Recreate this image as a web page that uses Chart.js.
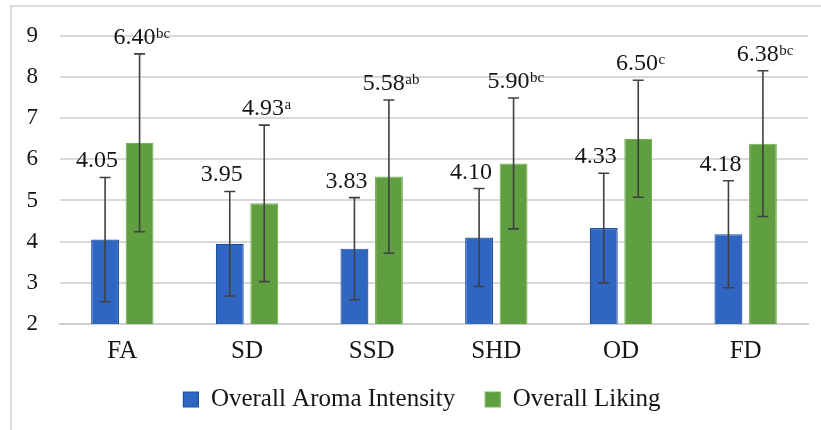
<!DOCTYPE html>
<html>
<head>
<meta charset="utf-8">
<script src="https://cdn.jsdelivr.net/npm/chart.js@4"></script>
<style>
  html, body { margin: 0; padding: 0; background: #fff; overflow: hidden; }
  #wrap { position: relative; width: 821px; height: 430px; }
  #frame { position: absolute; left: 10px; top: 5px; width: 840px; height: 460px;
           border: 2px solid #dcdcdc; box-sizing: border-box; pointer-events: none; }
  canvas { position: absolute; left: 0; top: 0; }
</style>
</head>
<body>
<div id="wrap">
  <canvas id="c" width="821" height="430"></canvas>
  <div id="frame"></div>
</div>
<script>
// Treatments and sensory scores
const categories = ['FA', 'SD', 'SSD', 'SHD', 'OD', 'FD'];
const aromaMeans = [4.05, 3.95, 3.83, 4.10, 4.33, 4.18];
const aromaSD = [1.51, 1.27, 1.24, 1.19, 1.33, 1.30];
const likingMeans = [6.40, 4.93, 5.58, 5.90, 6.50, 6.38];
const likingSD = [2.16, 1.90, 1.86, 1.59, 1.42, 1.77];
const likingLetters = ['bc', 'a', 'ab', 'bc', 'c', 'bc'];
const yTicks = [2, 3, 4, 5, 6, 7, 8, 9];

const SERIF = '"Liberation Serif", "Times New Roman", serif';
const TEXT = '#151515';

// Let the tick labels use the space outside their axis boxes
const widenTickLabels = {
  id: 'widenTickLabels',
  afterLayout(chart) {
    chart.scales.y.left = 0;
    chart.scales.x.bottom = chart.height;
  }
};

// Error bars (mean ± SD) and value labels drawn on top of the bars
const errorBarsAndLabels = {
  id: 'errorBarsAndLabels',
  afterDatasetsDraw(chart) {
    const ctx = chart.ctx;
    const y = chart.scales.y;
    const sds = [aromaSD, likingSD];
    chart.data.datasets.forEach((ds, di) => {
      const meta = chart.getDatasetMeta(di);
      meta.data.forEach((bar, i) => {
        const m = ds.data[i];
        const top = y.getPixelForValue(m + sds[di][i]);
        const bot = y.getPixelForValue(m - sds[di][i]);
        const x = bar.x;
        ctx.save();
        ctx.strokeStyle = '#404040';
        ctx.lineWidth = 1.6;
        ctx.beginPath();
        ctx.moveTo(x, top); ctx.lineTo(x, bot);
        ctx.moveTo(x - 5.5, top); ctx.lineTo(x + 5.5, top);
        ctx.moveTo(x - 5.5, bot); ctx.lineTo(x + 5.5, bot);
        ctx.stroke();

        // value label
        const num = m.toFixed(2);
        ctx.fillStyle = TEXT;
        ctx.textBaseline = 'alphabetic';
        ctx.font = '24px ' + SERIF;
        const nw = ctx.measureText(num).width;
        const baseY = top - 10;
        if (di === 0) {
          ctx.textAlign = 'center';
          ctx.fillText(num, x - 8, baseY);
        } else {
          const sup = likingLetters[i];
          ctx.font = '15px ' + SERIF;
          const sw = ctx.measureText(sup).width;
          const start = x - (nw + sw) / 2 + 2;
          ctx.textAlign = 'left';
          ctx.font = '24px ' + SERIF;
          ctx.fillText(num, start, baseY);
          ctx.font = '15px ' + SERIF;
          ctx.fillText(sup, start + nw + 0.5, baseY - 6);
        }
        ctx.restore();
      });
    });
  }
};

new Chart(document.getElementById('c'), {
  type: 'bar',
  data: {
    labels: categories,
    datasets: [
      {
        label: 'Overall Aroma Intensity',
        data: aromaMeans,
        backgroundColor: '#2f66c2',
        borderColor: '#214f9e',
        borderWidth: 1.2
      },
      {
        label: 'Overall Liking',
        data: likingMeans,
        backgroundColor: '#5f9f3f',
        borderColor: '#78b35a',
        borderWidth: 1.2
      }
    ]
  },
  options: {
    responsive: false,
    animation: false,
    devicePixelRatio: 1,
    layout: { padding: { left: 36, right: 13, top: 31, bottom: 8 } },
    datasets: { bar: { categoryPercentage: 0.553, barPercentage: 0.81 } },
    scales: {
      x: {
        grid: { display: false, drawTicks: false },
        border: { display: true, color: '#cfcfcf', width: 2 },
        ticks: { color: TEXT, font: { family: SERIF, size: 25 }, padding: 12 },
        afterFit(scale) { scale.height = 33; }
      },
      y: {
        min: 2,
        max: 9,
        afterBuildTicks(scale) { scale.ticks = yTicks.map(v => ({ value: v })); },
        grid: { color: '#d9d9d9', lineWidth: 2, drawTicks: false },
        border: { display: false },
        ticks: { color: TEXT, font: { family: SERIF, size: 23 }, padding: 22 },
        afterFit(scale) { scale.width = 24; }
      }
    },
    plugins: {
      tooltip: { enabled: false },
      legend: {
        position: 'bottom',
        labels: {
          boxWidth: 15,
          boxHeight: 15,
          padding: 30,
          color: TEXT,
          font: { family: SERIF, size: 25 }
        }
      }
    }
  },
  plugins: [widenTickLabels, errorBarsAndLabels]
});
</script>
</body>
</html>
